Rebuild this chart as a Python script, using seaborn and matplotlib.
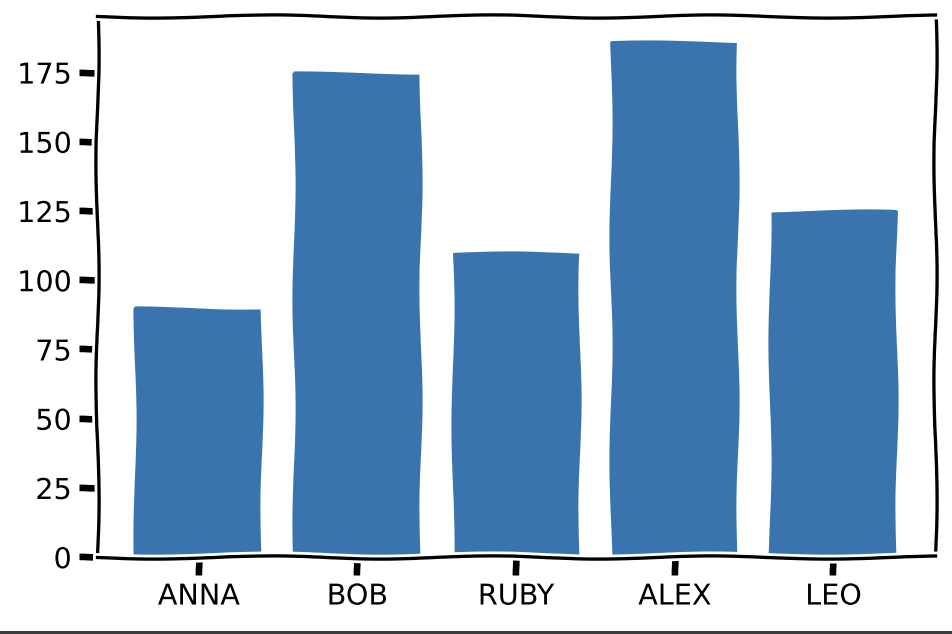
import numpy as np
import pandas as pd
import seaborn as sns
import matplotlib
matplotlib.use("Agg")
import matplotlib.pyplot as plt
from matplotlib.patches import Rectangle

# data
names = ["ANNA", "BOB", "RUBY", "ALEX", "LEO"]
heights = [90, 175, 110, 186, 125]

df = pd.DataFrame({"name": names, "height": heights})

with plt.xkcd(scale=1.6, length=250, randomness=2):
    plt.rcParams["font.family"] = ["DejaVu Sans"]
    fig, ax = plt.subplots(figsize=(6, 4), dpi=158.7)
    sns.barplot(data=df, x="name", y="height", color="#3a74ae",
                saturation=1, width=0.8, edgecolor="none", ax=ax)
    ax.set_xlim(-0.64, 4.64)
    ax.set_ylim(0, 195.3)
    ax.set_yticks(np.arange(0, 176, 25))
    ax.set_xlabel("")
    ax.set_ylabel("")
    ax.tick_params(labelsize=13)
    fig.subplots_adjust(left=0.102, right=0.982, top=0.973, bottom=0.121)

# thin dark strip along the bottom edge of the picture
fig.add_artist(Rectangle((0, 0), 1, 2.5 / 634, transform=fig.transFigure,
                         color="#3c3c3c", lw=0))

fig.savefig("out.png", dpi=158.7)
